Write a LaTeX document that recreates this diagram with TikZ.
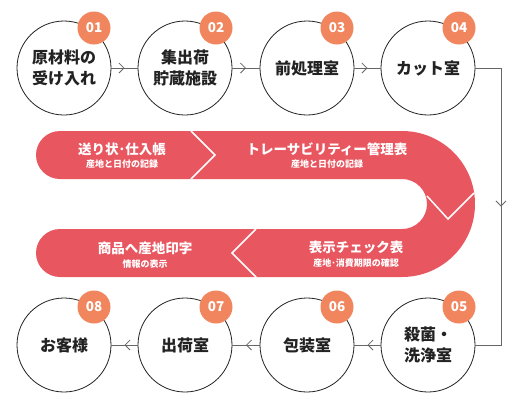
\documentclass[tikz,border=0pt]{standalone}
\usepackage{fontspec}
\setmainfont{Noto Sans CJK JP}
\usetikzlibrary{arrows.meta,decorations.markings}
\definecolor{bandred}{HTML}{E85660}
\definecolor{badgeorange}{HTML}{F0855E}
\definecolor{inkdark}{HTML}{222222}
\definecolor{linegray}{HTML}{666666}
\begin{document}
\begin{tikzpicture}[x=1pt,y=-1pt,
  stepcirc/.style={circle,draw=inkdark,line width=0.8pt,minimum size=94pt,inner sep=0pt,align=center,
    font=\fontsize{16}{21}\selectfont\bfseries,text=inkdark},
  badge/.style={circle,fill=badgeorange,minimum size=33pt,inner sep=0pt,text=white,
    font=\fontsize{13.5}{14}\selectfont\bfseries},
  conn/.style={draw=linegray,line width=0.8pt,postaction={decorate},
    decoration={markings,mark=at position 0.5 with {\arrow{Straight Barb[length=5pt,width=10pt,line width=0.8pt]}}}},
  bandmain/.style={text=white,inner sep=0pt,font=\fontsize{13.5}{14}\selectfont\bfseries},
  bandsub/.style={text=white,inner sep=0pt,font=\fontsize{9}{10}\selectfont\bfseries},
  divider/.style={draw=white,line width=1.5pt}
]
\useasboundingbox (0,0) rectangle (520,400);

% ribbon
\fill[bandred] (60,131) -- (402,131) arc[start angle=-90,end angle=90,radius=73]
  -- (60,277) arc[start angle=90,end angle=270,radius=24]
  -- (402,229) arc[start angle=90,end angle=-90,radius=25]
  -- (60,179) arc[start angle=90,end angle=270,radius=24] -- cycle;
\draw[divider] (191,131) -- (215,155) -- (191,179);
\draw[divider] (256,229) -- (232,253) -- (256,277);
\draw[divider] (427,196) -- (448,219) -- (474,193);

\node[bandmain] (t1) at (122,149) {送り状･仕入帳};
\node[bandsub] (s1) at (122,164) {産地と日付の記録};
\node[bandmain] (t2) at (327,149) {トレーサビリティー管理表};
\node[bandsub] (s2) at (327,164) {産地と日付の記録};
\node[bandmain] (t3) at (145,248) {商品へ産地印字};
\node[bandsub] (s3) at (145,264) {情報の表示};
\node[bandmain] (t4) at (356,247) {表示チェック表};
\node[bandsub] (s4) at (356,263) {産地･消費期限の確認};

% circles
\node[stepcirc] (c1) at (64,68) {原材料の\\受け入れ};
\node[stepcirc] (c2) at (185,68) {集出荷\\貯蔵施設};
\node[stepcirc] (c3) at (307,68) {前処理室};
\node[stepcirc] (c4) at (428,68) {カット室};
\node[stepcirc] (c5) at (428,345) {殺菌・\\洗浄室};
\node[stepcirc] (c6) at (307,345) {包装室};
\node[stepcirc] (c7) at (185,345) {出荷室};
\node[stepcirc] (c8) at (64,345) {お客様};

\node[badge] (b1) at (94,28) {01};
\node[badge] (b2) at (216,28) {02};
\node[badge] (b3) at (337,28) {03};
\node[badge] (b4) at (459,28) {04};
\node[badge] (b5) at (459,307) {05};
\node[badge] (b6) at (337,307) {06};
\node[badge] (b7) at (216,307) {07};
\node[badge] (b8) at (94,307) {08};

% connectors
\coordinate (r1) at (501,68);
\coordinate (r2) at (501,345);
\path[conn] (c1) -- (c2);
\path[conn] (c2) -- (c3);
\path[conn] (c3) -- (c4);
\path[conn] (c4) -- (r1) -- (r2) -- (c5);
\path[conn] (c5) -- (c6);
\path[conn] (c6) -- (c7);
\path[conn] (c7) -- (c8);
\end{tikzpicture}
\end{document}
